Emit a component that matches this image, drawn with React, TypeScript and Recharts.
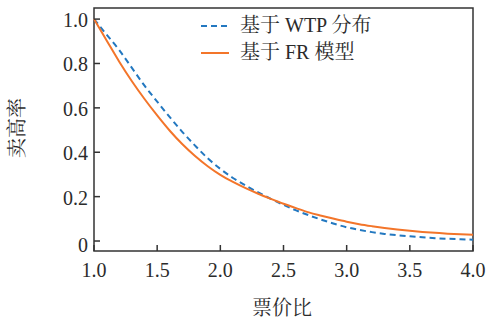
import { LineChart, Line, XAxis, YAxis, ReferenceArea, Label } from "recharts";

// 票价比 vs 卖高率：基于 WTP 分布（虚线）与基于 FR 模型（实线）

const ratio = [
  1.0, 1.1, 1.2, 1.3, 1.4, 1.5, 1.6, 1.7, 1.8, 1.9, 2.0, 2.1, 2.2, 2.3, 2.4, 2.5,
  2.6, 2.7, 2.8, 2.9, 3.0, 3.1, 3.2, 3.3, 3.4, 3.5, 3.6, 3.7, 3.8, 3.9, 4.0,
];
const wtpRate = [
  1.0, 0.93, 0.86, 0.78, 0.7, 0.628, 0.558, 0.491, 0.43, 0.373, 0.325, 0.284, 0.25, 0.219,
  0.19, 0.163, 0.138, 0.116, 0.096, 0.078, 0.062, 0.05, 0.04, 0.032, 0.026, 0.021,
  0.017, 0.013, 0.01, 0.008, 0.006,
];
const frRate = [
  1.0, 0.904, 0.808, 0.72, 0.64, 0.566, 0.497, 0.436, 0.383, 0.337, 0.298, 0.266, 0.238,
  0.213, 0.19, 0.168, 0.148, 0.129, 0.114, 0.1, 0.087, 0.076, 0.067, 0.059, 0.052,
  0.046, 0.041, 0.037, 0.033, 0.03, 0.028,
];
const xTicks = [1.0, 1.5, 2.0, 2.5, 3.0, 3.5, 4.0];
const yTicks = [0, 0.2, 0.4, 0.6, 0.8, 1.0];
const seriesNames = ["基于 WTP 分布", "基于 FR 模型"];

const data = ratio.map((r, i) => ({ ratio: r, wtp: wtpRate[i], fr: frRate[i] }));

const Y_MIN = -0.045;
const Y_MAX = 1.05;
const AXIS = "#333";
const TEXT = "#2b2b2b";
const BLUE = "#2378c0";
const ORANGE = "#f3752a";
const SERIF = '"Liberation Serif", "Times New Roman", "Noto Serif CJK SC", "Noto Sans CJK SC", serif';

function XTick({ x, y, payload }: any) {
  return (
    <g>
      <line x1={x} y1={y} x2={x} y2={y - 6} stroke={AXIS} strokeWidth={1.5} />
      <text x={x} y={y + 26} textAnchor="middle" fill={TEXT} fontSize={20} fontFamily={SERIF}>
        {Number(payload.value).toFixed(1)}
      </text>
    </g>
  );
}

function YTick({ x, y, payload }: any) {
  const v = Number(payload.value);
  return (
    <g>
      <line x1={x} y1={y} x2={x + 6} y2={y} stroke={AXIS} strokeWidth={1.5} />
      <text x={x - 6} y={y + (v === 0 ? 11 : 8)} textAnchor="end" fill={TEXT} fontSize={20} fontFamily={SERIF}>
        {v === 0 ? "0" : v.toFixed(1)}
      </text>
    </g>
  );
}

function LegendBox() {
  const rows = [
    { name: seriesNames[0], color: BLUE, dash: "6 4" },
    { name: seriesNames[1], color: ORANGE, dash: undefined },
  ];
  return (
    <div style={{ position: "absolute", left: 201, top: 12, fontFamily: SERIF, fontSize: 20, color: TEXT }}>
      {rows.map((r) => (
        <div key={r.name} style={{ display: "flex", alignItems: "center", height: 27 }}>
          <svg width={28} height={4} style={{ marginRight: 11 }}>
            <line x1={0} y1={2} x2={28} y2={2} stroke={r.color} strokeWidth={2} strokeDasharray={r.dash} />
          </svg>
          <span style={{ lineHeight: "27px", whiteSpace: "pre" }}>{r.name}</span>
        </div>
      ))}
    </div>
  );
}

export default function App() {
  return (
    <div style={{ position: "absolute", left: 0, top: 0, width: 487, height: 323 }}>
      <LineChart width={487} height={323} data={data} margin={{ top: 8, right: 14, bottom: 42, left: 34 }}>
        <ReferenceArea x1={1} x2={4} y1={Y_MIN} y2={Y_MAX} fill="none" stroke={AXIS} strokeWidth={1.5} />
        <XAxis
          dataKey="ratio"
          type="number"
          domain={[1, 4]}
          ticks={xTicks}
          interval={0}
          height={30}
          tickSize={0}
          tickMargin={0}
          axisLine={false}
          tickLine={false}
          tick={<XTick />}
        >
          <Label
            content={() => (
              <text x={282} y={315} textAnchor="middle" fill={TEXT} fontSize={20} fontFamily={SERIF}>
                票价比
              </text>
            )}
          />
        </XAxis>
        <YAxis
          type="number"
          domain={[Y_MIN, Y_MAX]}
          allowDataOverflow
          ticks={yTicks}
          interval={0}
          width={60}
          tickSize={0}
          tickMargin={0}
          axisLine={false}
          tickLine={false}
          tick={<YTick />}
        >
          <Label
            content={() => (
              <text
                x={17}
                y={128}
                transform="rotate(-90 17 128)"
                textAnchor="middle"
                dominantBaseline="central"
                fill={TEXT}
                fontSize={20}
                fontFamily={SERIF}
              >
                卖高率
              </text>
            )}
          />
        </YAxis>
        <Line
          dataKey="wtp"
          name={seriesNames[0]}
          stroke={BLUE}
          strokeWidth={2}
          strokeDasharray="6 4"
          dot={false}
          type="monotone"
          isAnimationActive={false}
        />
        <Line
          dataKey="fr"
          name={seriesNames[1]}
          stroke={ORANGE}
          strokeWidth={2}
          dot={false}
          type="monotone"
          isAnimationActive={false}
        />
      </LineChart>
      <LegendBox />
    </div>
  );
}
